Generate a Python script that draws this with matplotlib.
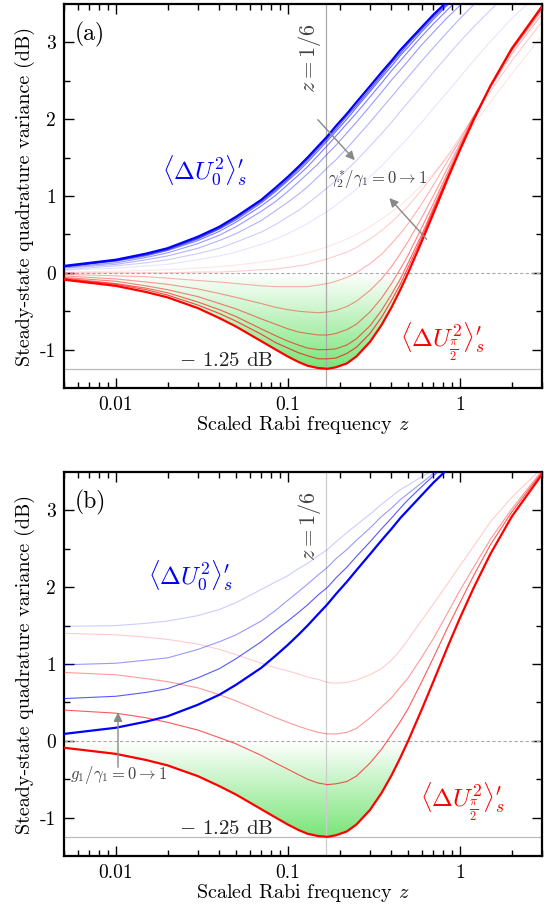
import numpy as np
import matplotlib
matplotlib.use('Agg')
import matplotlib.pyplot as plt
from matplotlib.colors import LinearSegmentedColormap

plt.rcParams['font.family'] = 'serif'
plt.rcParams['font.serif'] = ['cmr10']
plt.rcParams['mathtext.fontset'] = 'cm'
plt.rcParams['axes.unicode_minus'] = False
plt.rcParams['axes.formatter.use_mathtext'] = True

# scaled Rabi frequency grid
z = [0.005, 0.01, 0.015, 0.02, 0.03, 0.04, 0.05, 0.07, 0.085, 0.1,
     0.115, 0.13, 0.15, 0.17, 0.19, 0.22, 0.25, 0.3, 0.35, 0.4,
     0.45, 0.5, 0.6, 0.7, 0.85, 1.0, 1.2, 1.5, 2.0, 3.0]

# panel (a): gamma2*/gamma1 = 0, 1/64, 1/32, 1/16, 1/8, 1/4, 1/2, 1
blue_a0 = [.09, .17, .25, .32, .47, .60, .73, .95, 1.11, 1.25, 1.38, 1.50, 1.65, 1.78, 1.91,
           2.07, 2.22, 2.43, 2.61, 2.76, 2.90, 3.01, 3.20, 3.36, 3.54, 3.68, 3.82, 3.98, 4.15, 4.34]
blue_a1 = [.08, .16, .24, .31, .45, .58, .71, .93, 1.08, 1.22, 1.35, 1.47, 1.62, 1.75, 1.87,
           2.04, 2.18, 2.39, 2.57, 2.73, 2.86, 2.98, 3.17, 3.33, 3.51, 3.65, 3.80, 3.96, 4.13, 4.32]
blue_a2 = [.08, .16, .23, .30, .44, .57, .69, .91, 1.06, 1.20, 1.32, 1.44, 1.59, 1.72, 1.84,
           2.00, 2.15, 2.36, 2.54, 2.69, 2.83, 2.94, 3.14, 3.30, 3.49, 3.63, 3.78, 3.94, 4.12, 4.31]
blue_a3 = [.08, .15, .22, .29, .42, .54, .66, .87, 1.01, 1.15, 1.27, 1.38, 1.53, 1.66, 1.78,
           1.94, 2.08, 2.29, 2.47, 2.63, 2.76, 2.88, 3.08, 3.24, 3.43, 3.58, 3.73, 3.90, 4.08, 4.29]
blue_a4 = [.07, .13, .20, .26, .38, .49, .60, .80, .93, 1.06, 1.18, 1.29, 1.42, 1.55, 1.66,
           1.82, 1.96, 2.17, 2.35, 2.51, 2.64, 2.76, 2.97, 3.13, 3.33, 3.48, 3.65, 3.82, 4.02, 4.24]
blue_a5 = [.06, .11, .17, .22, .32, .42, .51, .68, .81, .92, 1.02, 1.12, 1.25, 1.37, 1.47,
           1.62, 1.76, 1.96, 2.14, 2.29, 2.43, 2.55, 2.76, 2.93, 3.14, 3.31, 3.49, 3.68, 3.90, 4.15]
blue_a6 = [.04, .09, .13, .17, .25, .32, .40, .53, .63, .73, .81, .90, 1.01, 1.11, 1.20,
           1.34, 1.46, 1.65, 1.81, 1.96, 2.10, 2.22, 2.43, 2.61, 2.83, 3.01, 3.20, 3.42, 3.68, 3.98]
blue_a7 = [.03, .06, .09, .11, .17, .22, .27, .37, .44, .51, .58, .64, .73, .80, .88,
           .99, 1.09, 1.25, 1.39, 1.53, 1.65, 1.76, 1.96, 2.14, 2.36, 2.55, 2.76, 3.01, 3.31, 3.68]

red_a0 = [-.09, -.17, -.25, -.32, -.46, -.59, -.70, -.89, -1.00, -1.09, -1.16, -1.21, -1.24, -1.25, -1.23,
          -1.18, -1.09, -.90, -.68, -.45, -.22, 0.0, .41, .77, 1.23, 1.60, 1.99, 2.43, 2.92, 3.47]
red_a1 = [-.08, -.15, -.22, -.29, -.42, -.53, -.63, -.80, -.91, -.98, -1.04, -1.08, -1.12, -1.12, -1.11,
          -1.05, -.97, -.79, -.58, -.36, -.15, .07, .46, .81, 1.25, 1.61, 2.00, 2.43, 2.92, 3.47]
red_a2 = [-.07, -.14, -.20, -.26, -.38, -.48, -.57, -.73, -.82, -.89, -.94, -.98, -1.00, -1.00, -.99,
          -.94, -.86, -.69, -.49, -.28, -.08, .13, .50, .84, 1.27, 1.62, 2.00, 2.43, 2.91, 3.46]
red_a3 = [-.06, -.11, -.17, -.22, -.31, -.40, -.47, -.60, -.67, -.73, -.77, -.79, -.81, -.81, -.79,
          -.74, -.67, -.51, -.33, -.14, .05, .23, .59, .90, 1.31, 1.65, 2.01, 2.43, 2.90, 3.45]
red_a4 = [-.04, -.08, -.12, -.15, -.21, -.27, -.32, -.40, -.45, -.48, -.50, -.51, -.52, -.51, -.49,
          -.44, -.37, -.23, -.08, .08, .25, .41, .72, 1.00, 1.37, 1.68, 2.03, 2.42, 2.89, 3.42]
red_a5 = [-.02, -.04, -.05, -.07, -.10, -.12, -.14, -.17, -.18, -.18, -.18, -.18, -.16, -.14, -.11,
          -.06, .00, .12, .24, .38, .51, .64, .90, 1.14, 1.46, 1.73, 2.04, 2.41, 2.85, 3.37]
red_a6 = [.00, .00, .00, .00, .01, .01, .02, .04, .05, .07, .09, .11, .15, .18, .22,
          .27, .33, .44, .55, .66, .77, .87, 1.08, 1.27, 1.53, 1.76, 2.03, 2.36, 2.76, 3.27]
red_a7 = [.01, .02, .03, .04, .06, .08, .10, .14, .17, .20, .23, .26, .30, .34, .38,
          .44, .50, .60, .70, .79, .88, .97, 1.14, 1.29, 1.51, 1.70, 1.93, 2.22, 2.59, 3.09]

# panel (b): g1/gamma1 = 0 -> 1
blue_b0 = blue_a0
blue_b1 = [.55, .58, .63, .68, .82, .94, 1.07, 1.29, 1.44, 1.56, 1.67, 1.77, 1.90, 2.00, 2.12,
           2.26, 2.40, 2.59, 2.76, 2.90, 3.03, 3.14, 3.31, 3.45, 3.61, 3.75, 3.88, 4.03, 4.20, 4.38]
blue_b2 = [.99, 1.01, 1.05, 1.08, 1.19, 1.29, 1.38, 1.56, 1.70, 1.83, 1.94, 2.04, 2.16, 2.26, 2.37,
           2.49, 2.61, 2.77, 2.92, 3.03, 3.14, 3.22, 3.36, 3.48, 3.63, 3.76, 3.89, 4.04, 4.20, 4.38]
blue_b3 = [1.49, 1.50, 1.53, 1.56, 1.63, 1.71, 1.80, 1.97, 2.07, 2.15, 2.24, 2.31, 2.41, 2.49, 2.59,
           2.71, 2.81, 2.95, 3.08, 3.18, 3.27, 3.33, 3.44, 3.52, 3.66, 3.78, 3.90, 4.05, 4.21, 4.39]

red_b0 = red_a0
red_b1 = [.40, .36, .30, .24, .14, .04, -.04, -.19, -.29, -.37, -.44, -.50, -.55, -.57, -.56,
          -.53, -.46, -.29, -.11, .08, .25, .42, .77, 1.08, 1.48, 1.80, 2.15, 2.55, 2.98, 3.50]
red_b2 = [.89, .86, .81, .77, .69, .60, .52, .38, .30, .24, .19, .15, .11, .09, .09,
          .11, .16, .30, .44, .56, .70, .82, 1.09, 1.33, 1.67, 1.96, 2.26, 2.62, 3.02, 3.52]
red_b3 = [1.40, 1.38, 1.35, 1.32, 1.26, 1.19, 1.12, 1.01, .95, .91, .87, .83, .80, .76, .75,
          .76, .79, .86, .94, 1.05, 1.18, 1.32, 1.57, 1.78, 2.05, 2.28, 2.53, 2.85, 3.17, 3.55]

blues_a = [blue_a0, blue_a1, blue_a2, blue_a3, blue_a4, blue_a5, blue_a6, blue_a7]
reds_a = [red_a0, red_a1, red_a2, red_a3, red_a4, red_a5, red_a6, red_a7]
alphas_a = [1, 0.7, 0.6, 0.5, 0.4, 0.3, 0.2, 0.1]
blues_b = [blue_b0, blue_b1, blue_b2, blue_b3]
reds_b = [red_b0, red_b1, red_b2, red_b3]
alphas_b = [1, 0.65, 0.4, 0.2]

label0 = r'$\langle\Delta U_0^2\rangle_s^{\prime}$'
label90 = r'$\langle\Delta U_{\frac{\pi}{2}}^2\rangle_s^{\prime}$'

fig = plt.figure(figsize=(5.47, 9.07), dpi=100)
ax_a = fig.add_axes([0.117, 0.5722, 0.874, 0.4234])
ax_b = fig.add_axes([0.117, 0.0562, 0.874, 0.4234])

green = LinearSegmentedColormap.from_list('sq', ['#ffffff', '#74e474'])


def draw_panel(ax, blues, reds, alphas, tag, lab0_pos, lab90_pos, vcol):
    ax.set_xscale('log')
    # squeezing region shading under the thick red curve
    grad = np.linspace(0, 1, 256).reshape(-1, 1)
    im = ax.imshow(grad, extent=[z[0], z[-1], -1.3, 0], origin='upper',
                   cmap=green, aspect='auto', zorder=1)
    poly = ax.fill_between(z, np.minimum(reds[0], 0), 0, color='none', lw=0)
    im.set_clip_path(poly.get_paths()[0], transform=ax.transData)

    ax.axhline(0, color='#aaaaaa', lw=0.8, ls=(0, (3, 2)), zorder=2)
    ax.axhline(-1.25, color='#bbbbbb', lw=0.9, zorder=2)
    ax.axvline(1 / 6, color=vcol, lw=0.9, zorder=2)

    for i in range(len(blues) - 1, -1, -1):
        lw = 1.6 if i == 0 else 0.8
        ax.plot(z, reds[i], color='#ff0000', alpha=alphas[i], lw=lw, zorder=4)
        ax.plot(z, blues[i], color='#0000ff', alpha=alphas[i], lw=lw, zorder=4)

    ax.set_xlim(0.005, 3)
    ax.set_ylim(-1.5, 3.5)
    ax.set_xticks([0.01, 0.1, 1])
    ax.set_xticklabels(['0.01', '0.1', '1'])
    ax.set_yticks([-1, 0, 1, 2, 3])
    ax.set_yticklabels(['-1', '0', '1', '2', '3'])
    ax.set_yticks([-0.5, 0.5, 1.5, 2.5], minor=True)
    ax.tick_params(which='both', direction='in', top=True, right=True,
                   labelsize=14, width=1)
    ax.tick_params(which='major', length=7, pad=6)
    ax.tick_params(which='minor', length=4)
    for s in ax.spines.values():
        s.set_linewidth(1.6)

    ax.set_xlabel(r'Scaled Rabi frequency $z$', fontsize=14.5, labelpad=0)
    ax.set_ylabel('Steady-state quadrature variance (dB)', fontsize=14.5, labelpad=3)

    ax.text(0.022, 0.92, tag, transform=ax.transAxes, fontsize=17, va='center')
    ax.text(0.16, 2.8, r'$z = 1/6$', rotation=90, ha='right', va='center',
            fontsize=16, color='#444444')
    ax.text(0.044, -1.15, r'$-$ 1.25 dB', ha='center', va='center',
            fontsize=15, color='#222222')
    ax.text(lab0_pos[0], lab0_pos[1], label0, color='#0000ff', fontsize=18,
            ha='center', va='center')
    ax.text(lab90_pos[0], lab90_pos[1], label90, color='#ff0000', fontsize=18,
            ha='center', va='center')


draw_panel(ax_a, blues_a, reds_a, alphas_a, '(a)', (0.033, 1.32), (0.79, -0.9), '#aaaaaa')
draw_panel(ax_b, blues_b, reds_b, alphas_b, '(b)', (0.0272, 2.14), (1.03, -0.79), '#cccccc')

arrow = dict(arrowstyle='-|>', color='#888888', lw=1.0, mutation_scale=13)
ax_a.annotate('', xy=(0.251, 1.44), xytext=(0.1456, 2.02), arrowprops=arrow, zorder=5)
ax_a.annotate('', xy=(0.379, 1.0), xytext=(0.656, 0.41), arrowprops=arrow, zorder=5)
ax_a.text(0.334, 1.22, r'$\gamma_2^{*}/\gamma_1 = 0 \rightarrow 1$', fontsize=12,
          ha='center', va='center', color='#444444', zorder=6)

ax_b.annotate('', xy=(0.0103, 0.405), xytext=(0.0103, -0.38), arrowprops=arrow, zorder=5)
ax_b.text(0.0104, -0.45, r'$g_1/\gamma_1 = 0 \rightarrow 1$', fontsize=12,
          ha='center', va='center', color='#444444', zorder=6)

fig.savefig('out.png', dpi=100)
